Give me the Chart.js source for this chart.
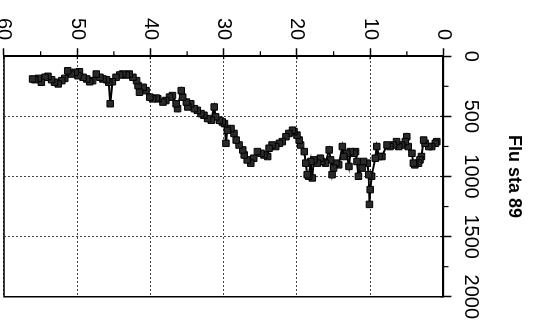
<!DOCTYPE html>
<html>
<head>
<meta charset="utf-8">
<script src="https://cdn.jsdelivr.net/npm/chart.js@4.4.1/dist/chart.umd.min.js"></script>
<style>
  html, body { margin: 0; padding: 0; background: #fff; }
  #wrap { position: relative; width: 539px; height: 326px; overflow: hidden; background: #fff; }
  /* chart is drawn upright, then turned a quarter clockwise like the scan */
  #rot {
    position: absolute; left: 0; top: 0;
    width: 326px; height: 539px; overflow: hidden;
    transform-origin: 0 0;
    transform: translateX(539px) rotate(90deg);
  }
  #chart { display: block; }
</style>
</head>
<body>
<div id="wrap">
  <div id="rot">
    <canvas id="chart" width="326" height="560"></canvas>
  </div>
</div>
<script>
// profile values (depth 0-60, flux 0-2000)
const depth = [
  0.9, 1.1, 1.6, 2.0, 2.5, 2.7, 3.0, 3.2, 3.4, 3.9,
  4.1, 4.3, 4.8, 5.0, 5.2, 5.7, 6.1, 6.4, 6.8, 7.3,
  7.7, 8.4, 8.8, 9.1, 9.3, 9.8, 10.0, 10.1, 10.2, 10.4,
  10.9, 11.1, 11.6, 11.8, 12.0, 12.2, 12.7, 12.9, 13.2, 13.6,
  13.8, 14.3, 14.7, 15.0, 15.2, 15.4, 15.6, 16.1, 16.6, 16.8,
  17.2, 17.7, 17.9, 18.1, 18.4, 18.6, 18.8, 19.0, 19.5, 19.7,
  20.0, 20.4, 20.6, 21.1, 21.5, 22.0, 22.4, 22.9, 23.4, 23.8,
  24.0, 24.5, 24.9, 25.4, 25.9, 26.3, 26.8, 27.2, 27.4, 27.9,
  28.3, 28.6, 29.0, 29.5, 29.7, 29.9, 30.2, 30.6, 31.1, 31.3,
  31.7, 32.2, 32.7, 33.1, 33.6, 34.0, 34.5, 34.9, 35.1, 35.6,
  35.8, 36.3, 36.5, 37.0, 37.4, 37.9, 38.3, 39.0, 39.2, 39.7,
  40.1, 40.6, 41.0, 41.5, 41.7, 41.9, 42.4, 42.9, 43.3, 43.8,
  44.2, 44.7, 45.2, 45.5, 45.7, 46.0, 46.5, 46.9, 47.4, 47.9,
  48.3, 48.7, 49.2, 49.7, 49.9, 50.3, 50.8, 51.3, 51.7, 52.1,
  52.6, 53.1, 53.5, 54.0, 54.4, 54.9, 55.3, 55.8, 56.1
];
const flux = [
  710, 724, 751, 751, 724, 697, 834, 862, 889, 903,
  889, 807, 751, 669, 710, 738, 751, 710, 738, 751,
  738, 834, 834, 751, 848, 998, 1109, 1232, 985, 889,
  875, 930, 998, 875, 793, 807, 793, 916, 807, 834,
  751, 903, 889, 930, 985, 862, 779, 889, 875, 848,
  889, 862, 1012, 875, 998, 985, 889, 793, 738, 697,
  656, 628, 615, 642, 669, 710, 724, 751, 738, 765,
  834, 821, 807, 793, 848, 889, 862, 821, 779, 738,
  697, 642, 601, 615, 724, 560, 546, 532, 504, 422,
  532, 518, 491, 477, 450, 436, 395, 422, 381, 340,
  286, 436, 395, 327, 340, 368, 381, 354, 348, 354,
  340, 286, 258, 299, 244, 203, 175, 148, 156, 148,
  156, 175, 212, 395, 216, 195, 189, 175, 148, 203,
  212, 189, 175, 129, 162, 134, 148, 121, 184, 203,
  230, 216, 195, 167, 175, 216, 184, 195, 189
];

// axis settings
const fluxMin = 0, fluxMax = 2000, fluxStep = 500;
const depthMin = 0, depthMax = 60, depthStep = 10;

const tickFont = { family: "'Liberation Sans', Arial, Helvetica, sans-serif", size: 20 };

// box round the plot plus the short half-step ticks
const framePlugin = {
  id: 'frame',
  afterDraw(chart) {
    const { ctx, chartArea: a, scales: { x, y } } = chart;
    ctx.save();
    ctx.strokeStyle = '#000';
    ctx.lineWidth = 1.5;
    ctx.strokeRect(a.left, a.top, a.right - a.left, a.bottom - a.top);
    ctx.lineWidth = 1.2;
    ctx.beginPath();
    for (let v = fluxMin + fluxStep / 2; v < fluxMax; v += fluxStep) {
      const px = x.getPixelForValue(v);
      ctx.moveTo(px, a.top);
      ctx.lineTo(px, a.top - 5);
    }
    for (let v = depthMin + depthStep / 2; v < depthMax; v += depthStep) {
      const py = y.getPixelForValue(v);
      ctx.moveTo(a.left, py);
      ctx.lineTo(a.left - 5, py);
    }
    // major ticks poke a little into the plot
    for (let v = fluxMin; v <= fluxMax; v += fluxStep) {
      const px = x.getPixelForValue(v);
      ctx.moveTo(px, a.top);
      ctx.lineTo(px, a.top + 3);
    }
    for (let v = depthMin; v <= depthMax; v += depthStep) {
      const py = y.getPixelForValue(v);
      ctx.moveTo(a.left, py);
      ctx.lineTo(a.left + 3, py);
    }
    ctx.stroke();
    ctx.restore();
  }
};

const ctx = document.getElementById('chart').getContext('2d');

new Chart(ctx, {
  type: 'scatter',
  data: {
    datasets: [
      {
        label: 'Flu sta 89',
        data: depth.map((d, i) => ({ x: flux[i], y: d })),
        showLine: true,
        borderColor: '#000',
        borderWidth: 2,
        pointStyle: 'rect',
        pointRadius: 4.6,
        pointBackgroundColor: '#2a2a2a',
        pointBorderColor: '#000',
        pointBorderWidth: 1,
        tension: 0,
      },
    ],
  },
  options: {
    responsive: false,
    animation: false,
    devicePixelRatio: 1,
    layout: {
      padding: { top: 4, left: 10, right: 26, bottom: 25 },
    },
    plugins: {
      legend: { display: false },
      tooltip: { enabled: false },
      title: {
        display: true,
        text: 'Flu sta 89',
        fullSize: false,
        color: '#000',
        font: { family: "'Liberation Sans', Arial, Helvetica, sans-serif", size: 18, weight: 'bold' },
        padding: { top: 10, bottom: 14 },
      },
    },
    scales: {
      x: {
        type: 'linear',
        position: 'top',
        min: fluxMin,
        max: fluxMax,
        ticks: {
          stepSize: fluxStep,
          color: '#000',
          font: tickFont,
          padding: 7,
          maxRotation: 0,
          callback: (v) => String(v),
        },
        grid: {
          color: '#444',
          lineWidth: 1,
          tickLength: 8,
          tickColor: '#000',
          tickWidth: 1.5,
        },
        border: { color: '#000', width: 2, dash: [2, 2] },
      },
      y: {
        type: 'linear',
        reverse: true,
        min: depthMin,
        max: depthMax,
        ticks: {
          stepSize: depthStep,
          color: '#000',
          font: tickFont,
          padding: 8,
          callback: (v) => String(v),
        },
        grid: {
          color: '#444',
          lineWidth: 1,
          tickLength: 8,
          tickColor: '#000',
          tickWidth: 1.5,
        },
        border: { color: '#000', width: 2, dash: [2, 2] },
      },
    },
  },
  plugins: [framePlugin],
});
</script>
</body>
</html>
